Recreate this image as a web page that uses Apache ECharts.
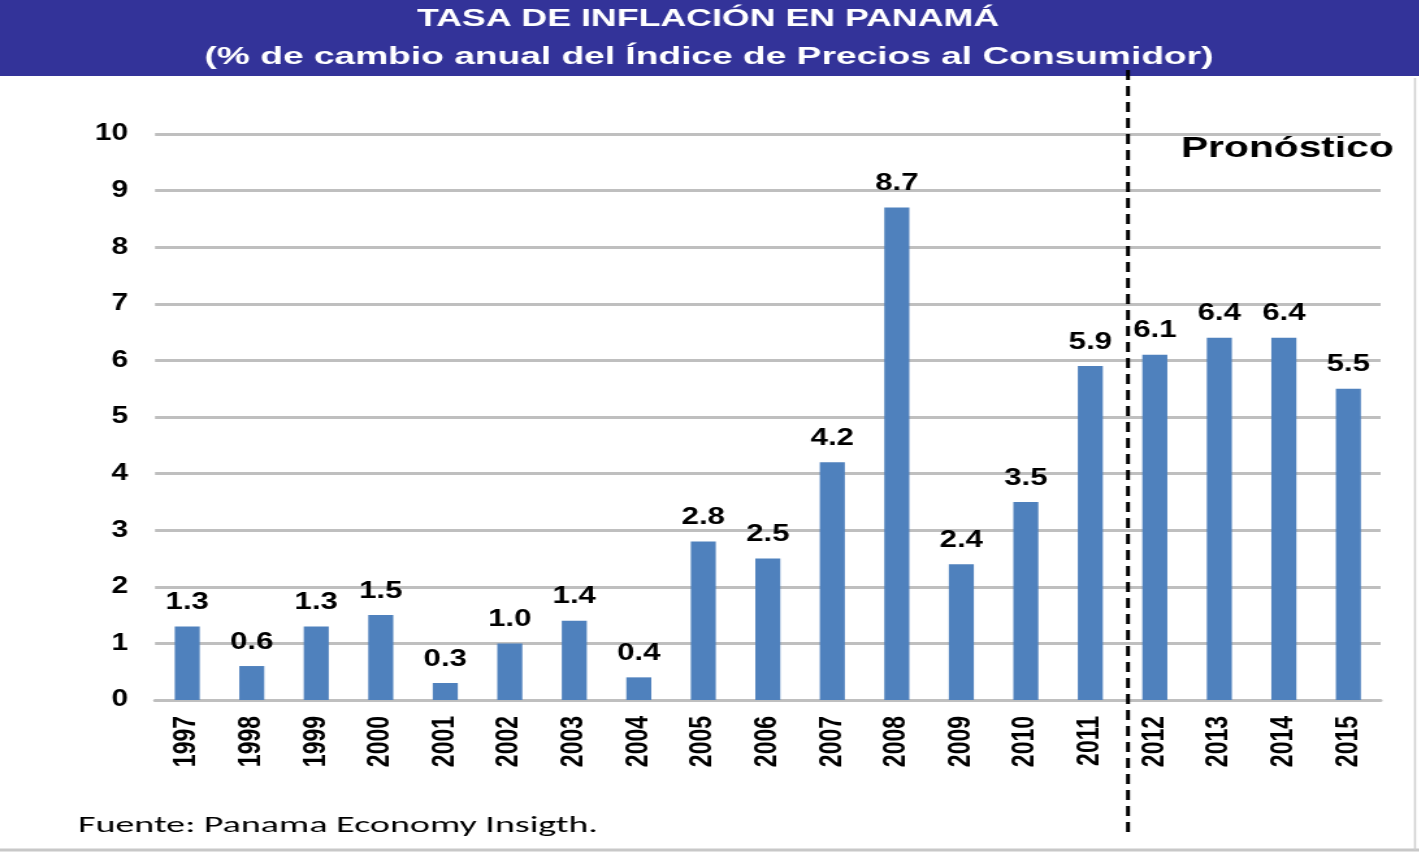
<!DOCTYPE html>
<html>
<head>
<meta charset="utf-8">
<script src="https://cdn.jsdelivr.net/npm/echarts@6/dist/echarts.min.js"></script>
<style>
  html, body { margin: 0; padding: 0; background: #fff; overflow: hidden; }
  /* la imagen original esta estirada en horizontal: se dibuja angosta y se estira */
  #chart { width: 1092px; height: 856px; transform: scaleX(1.3); transform-origin: 0 0; }
</style>
</head>
<body>
<div id="chart"></div>
<script>
const years = ['1997', '1998', '1999', '2000', '2001', '2002', '2003', '2004', '2005', '2006',
    '2007', '2008', '2009', '2010', '2011', '2012', '2013', '2014', '2015'];
const inflation = [1.3, 0.6, 1.3, 1.5, 0.3, 1.0, 1.4, 0.4, 2.8, 2.5, 4.2, 8.7, 2.4, 3.5, 5.9, 6.1, 6.4, 6.4, 5.5];
const yTicks = [0, 1, 2, 3, 4, 5, 6, 7, 8, 9, 10];

const S = 1.3; // estiramiento horizontal
const px = x => x / S;

const chart = echarts.init(document.getElementById('chart'));

const option = {
    animation: false,
    backgroundColor: '#fff',
    grid: { left: px(155), right: px(39), top: 134, bottom: 156 },
    graphic: [
        // banda azul del titulo
        { type: 'rect', x: 0, y: 0, shape: { width: 1092, height: 76 }, style: { fill: '#333399' }, z: 0 },
        { type: 'text', x: px(708), y: 19, scaleX: 1.145, style: { text: 'TASA DE INFLACIÓN EN PANAMÁ', fill: '#fff', align: 'center', verticalAlign: 'middle', font: 'bold 24px Arial, "Liberation Sans", sans-serif' } },
        { type: 'text', x: px(709), y: 57, scaleX: 1.19, style: { text: '(% de cambio anual del Índice de Precios al Consumidor)', fill: '#fff', align: 'center', verticalAlign: 'middle', font: 'bold 24px Arial, "Liberation Sans", sans-serif' } },
        // linea de pronostico
        { type: 'line', shape: { x1: px(1128), y1: 70, x2: px(1128), y2: 835 }, style: { stroke: '#000', lineWidth: 3, lineDash: [10, 6] }, z: 10 },
        { type: 'text', x: px(1181), y: 149, scaleX: 1.08, style: { text: 'Pronóstico', fill: '#000', verticalAlign: 'middle', font: 'bold 29px Arial, "Liberation Sans", sans-serif' } },
        { type: 'text', x: px(78), y: 826, scaleX: 1.27, style: { text: 'Fuente: Panama Economy Insigth.', fill: '#000', verticalAlign: 'middle', font: '23px Calibri, Carlito, "Open Sans", sans-serif' } },
        { type: 'line', shape: { x1: 0, y1: 850, x2: 1092, y2: 850 }, style: { stroke: '#c8c8c8', lineWidth: 3 } },
        { type: 'line', shape: { x1: px(1415), y1: 78, x2: px(1415), y2: 850 }, style: { stroke: '#d0d0d0', lineWidth: 1.5 } }
    ],
    xAxis: {
        type: 'category',
        data: years,
        axisLine: { lineStyle: { color: '#BFBFBF', width: 3 } },
        axisTick: { show: false },
        axisLabel: {
            rotate: 90,
            margin: 16,
            color: '#000',
            fontWeight: 'bold',
            fontSize: 23,
            fontFamily: 'Arial, "Liberation Sans", sans-serif'
        }
    },
    yAxis: {
        type: 'value',
        min: yTicks[0],
        max: yTicks[yTicks.length - 1],
        interval: 1,
        axisLine: { show: false },
        axisTick: { show: false },
        splitLine: { lineStyle: { color: '#BFBFBF', width: 3 } },
        axisLabel: {
            margin: px(27),
            color: '#000',
            fontWeight: 'bold',
            fontSize: 23,
            fontFamily: 'Arial, "Liberation Sans", sans-serif'
        }
    },
    series: [{
        type: 'bar',
        data: inflation,
        barWidth: px(25),
        itemStyle: { color: '#4F81BD' },
        label: {
            show: true,
            position: 'top',
            distance: 12,
            color: '#000',
            fontWeight: 'bold',
            fontSize: 24,
            fontFamily: 'Arial, "Liberation Sans", sans-serif',
            formatter: p => p.value.toFixed(1)
        }
    }]
};

chart.setOption(option);
</script>
</body>
</html>
